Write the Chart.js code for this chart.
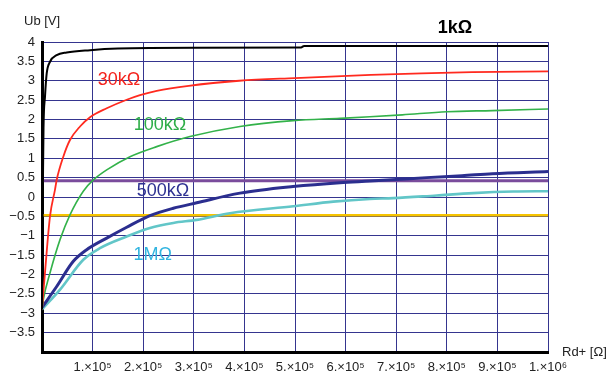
<!DOCTYPE html>
<html lang="en">

<head>
    <meta charset="UTF-8">
    <title>Ub vs Rd+</title>
    <script src="https://cdn.jsdelivr.net/npm/chart.js"></script>
    <style>
        body {
            margin: 0;
            background: #fff
        }

        #container {
            width: 608px;
            height: 374px
        }
    </style>
</head>

<body>
    <div id="container">
        <canvas id="mycanvas" width="608" height="374"></canvas>
    </div>
    <script>
        // 讀圖估計的資料點 [Rd+ (Ω), Ub (V)]
        const curve1k = [[0, -2.9], [1500, 0], [3000, 1.8], [5900, 2.59], [9300, 3.19], [15800, 3.49], [29000, 3.66],
        [48800, 3.73], [94900, 3.79], [150000, 3.83], [300000, 3.85], [512000, 3.86], [518000, 3.9], [1000000, 3.9]]
        const curve30k = [[0, -2.9], [5900, -1.95], [15800, -0.5], [25700, 0.19], [29000, 0.44], [42100, 1.04],
        [55300, 1.47], [75100, 1.82], [94900, 2.06], [127900, 2.29], [167400, 2.51], [193700, 2.63],
        [226700, 2.74], [290000, 2.87], [390000, 3.0], [500000, 3.07], [650000, 3.15], [750000, 3.19],
        [850000, 3.22], [1000000, 3.24]]
        const curve100k = [[0, -2.9], [2600, -2.65], [15800, -1.96], [35600, -1.1], [55300, -0.46], [81600, 0.15],
        [101400, 0.44], [127900, 0.70], [173900, 1.04], [226700, 1.30], [292500, 1.56], [391300, 1.82],
        [496000, 1.97], [589000, 2.03], [648000, 2.07], [712000, 2.12], [800000, 2.2], [890000, 2.23],
        [1000000, 2.27]]
        const curve500k = [[0, -2.85], [29000, -2.31], [61900, -1.66], [88300, -1.36], [127900, -1.06],
        [167400, -0.78], [213400, -0.48], [259500, -0.29], [305700, -0.15], [391300, 0.10],
        [496000, 0.27], [589000, 0.37], [648000, 0.41], [700000, 0.45], [760000, 0.5], [830000, 0.55],
        [890000, 0.6], [1000000, 0.66]]
        const curve1M = [[0, -2.9], [35600, -2.39], [81600, -1.62], [114600, -1.32], [167400, -1.02],
        [213400, -0.80], [259500, -0.67], [305700, -0.59], [371500, -0.42], [496600, -0.24], [575700, -0.12],
        [648000, -0.05], [694300, -0.03], [780000, 0.04], [852400, 0.10], [931400, 0.14], [1000000, 0.15]]
        const levelPurple = 0.42
        const levelYellow = -0.47

        // 曲線名稱 (位置用資料座標)
        const curveNames = ['1kΩ', '30kΩ', '100kΩ', '500kΩ', '1MΩ']
        const nameAt = [[816000, 4.36], [152000, 3.02], [233000, 1.86], [239000, 0.16], [219000, -1.49]]
        const nameColors = ['#000', '#f4231c', '#2fae48', '#2e3192', '#31b4e0']
        const nameFonts = ['bold 18px "Liberation Sans"', '18px "Liberation Sans"', '18px "Liberation Sans"',
            '18px "Liberation Sans"', '18px "Liberation Sans"']

        const toPts = arr => arr.map(p => ({ x: p[0], y: p[1] }))

        function lineSet(data, color, width) {
            return {
                data: toPts(data),
                borderColor: color,
                borderWidth: width,
                pointRadius: 0,
                cubicInterpolationMode: 'monotone',
                fill: false
            }
        }

        const textPlugin = {
            id: 'texts',
            afterDatasetsDraw(chart) {
                const ctx = chart.ctx
                const xs = chart.scales.x, ys = chart.scales.y
                ctx.save()
                ctx.textBaseline = 'middle'
                ctx.textAlign = 'center'
                curveNames.forEach((t, i) => {
                    ctx.font = nameFonts[i]
                    ctx.fillStyle = nameColors[i]
                    ctx.fillText(t, xs.getPixelForValue(nameAt[i][0]), ys.getPixelForValue(nameAt[i][1]))
                })
                // 軸標題
                ctx.font = '13px "Liberation Sans"'
                ctx.fillStyle = '#222'
                ctx.textAlign = 'left'
                ctx.fillText('Ub [V]', 24, 21)
                ctx.fillText('Rd+ [Ω]', 562, 352)
                ctx.restore()
            }
        }

        new Chart(document.getElementById('mycanvas'), {
            type: 'line',
            data: {
                datasets: [
                    lineSet(curve1k, '#000000', 2),
                    lineSet(curve30k, '#ff2a1f', 1.8),
                    lineSet(curve100k, '#33b24a', 1.6),
                    lineSet(curve500k, '#2b2e8f', 3),
                    lineSet(curve1M, '#62c6c8', 2.6),
                    lineSet([[0, levelPurple], [1000000, levelPurple]], '#7a4c9c', 3),
                    lineSet([[0, levelYellow], [1000000, levelYellow]], '#f7c400', 2.6)
                ]
            },
            options: {
                responsive: false,
                animation: false,
                events: [],
                layout: { padding: { top: 42, right: 60, left: 0, bottom: 0 } },
                plugins: { legend: { display: false }, tooltip: { enabled: false } },
                scales: {
                    x: {
                        type: 'linear',
                        min: 0,
                        max: 1000000,
                        afterFit: s => { s.height = 22 },
                        border: { color: '#000', width: 3 },
                        grid: { color: '#35358f', lineWidth: 1, drawTicks: false },
                        ticks: {
                            stepSize: 100000,
                            autoSkip: false,
                            maxRotation: 0,
                            padding: 8,
                            color: '#222',
                            font: { family: 'Liberation Sans', size: 13 },
                            callback: v => {
                                if (v === 0) return ''
                                const n = Math.round(v / 100000)
                                return n === 10 ? '1.×10⁶' : n + '.×10⁵'
                            }
                        }
                    },
                    y: {
                        min: -4,
                        max: 4,
                        afterFit: s => { s.width = 42 },
                        border: { color: '#000', width: 3 },
                        grid: { color: '#35358f', lineWidth: 1, drawTicks: false },
                        ticks: {
                            stepSize: 0.5,
                            padding: 7,
                            color: '#222',
                            font: { family: 'Liberation Sans', size: 13 },
                            callback: v => {
                                if (v === -4) return ''
                                return v < 0 ? '−' + Math.abs(v) : String(v)
                            }
                        }
                    }
                }
            },
            plugins: [textPlugin]
        })
    </script>
</body>

</html>
